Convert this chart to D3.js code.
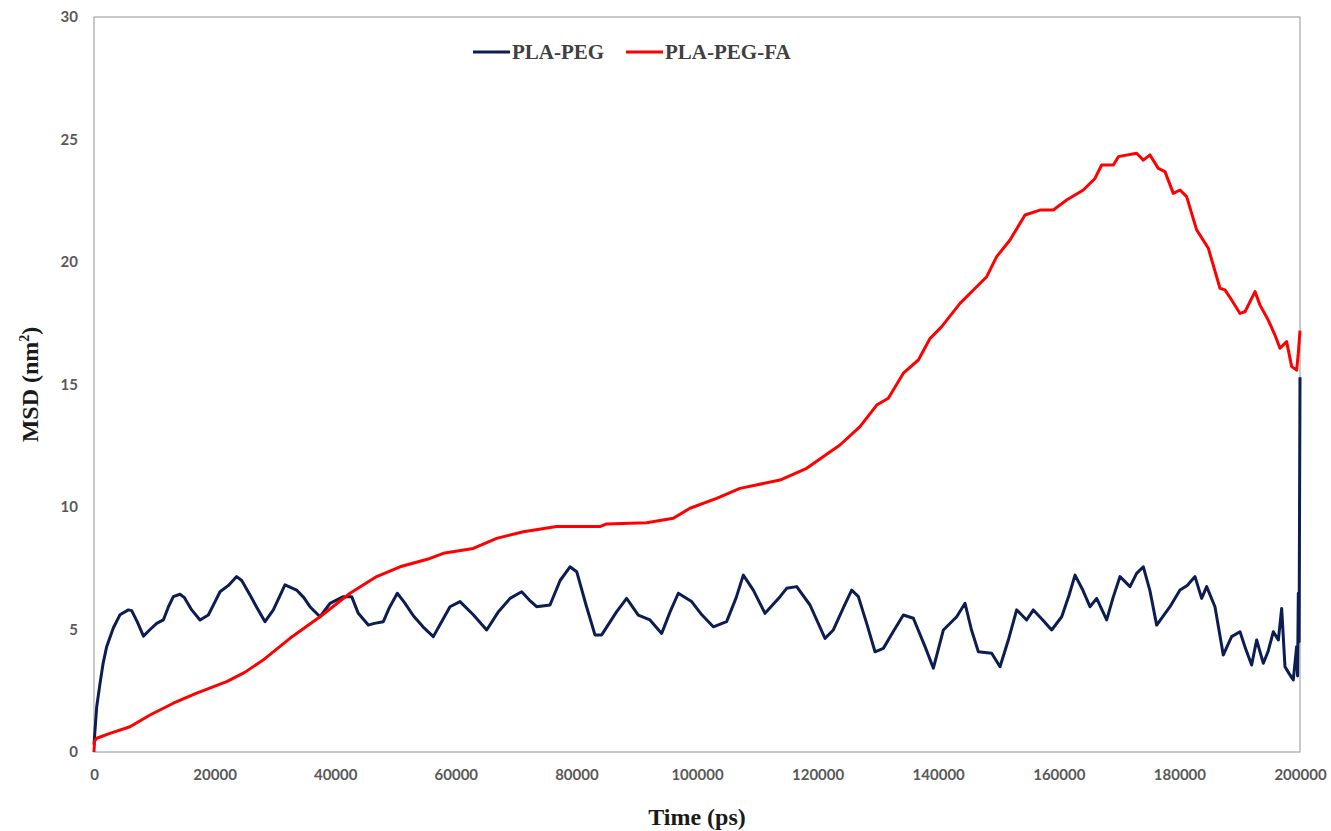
<!DOCTYPE html>
<html lang="en">
<head>
<meta charset="utf-8">
<title>MSD of PLA-PEG and PLA-PEG-FA</title>
<script src="https://d3js.org/d3.v7.min.js"></script>
<style>
  body { margin: 0; background: #fff; }
  .tick text { font-family: Lato, "Open Sans", sans-serif; font-weight: bold; font-size: 15px; fill: #595959; }
  .title { font-family: "Liberation Serif", "Times New Roman", serif; font-weight: bold; fill: #1a1a1a; }
  .legend text { font-family: "Liberation Serif", "Times New Roman", serif; font-weight: bold; font-size: 21px; fill: #404040; }
</style>
</head>
<body>
<script>
// values (time in ps, MSD in nm^2)
var seriesNames = ["PLA-PEG", "PLA-PEG-FA"];
var seriesColors = ["#0b1d51", "#ff0000"];

var xTicks = [0, 20000, 40000, 60000, 80000, 100000, 120000, 140000, 160000, 180000, 200000];
var yTicks = [0, 5, 10, 15, 20, 25, 30];

var timePEG = [0, 200, 450, 1000, 1500, 2100, 3200, 4300, 5700, 6250, 7200, 8200, 9300, 10400, 11500, 12300,
  13150, 14260, 15000, 16200, 17580, 18960, 20000, 20900, 22300, 23660, 24500, 25870, 27000, 28360, 29740,
  31670, 33600, 34800, 35820, 37480, 39140, 41350, 42740, 43830, 45490, 46500, 47980, 49000, 50300, 51500,
  52960, 54600, 56270, 57600, 59040, 60700, 62900, 65120, 67000, 68990, 70920, 72200, 73410, 75620, 77300,
  78940, 80050, 81600, 83080, 84190, 86680, 88330, 90260, 92200, 94140, 95500, 96900, 99110, 100800, 102700,
  104910, 106500, 107680, 109340, 111280, 113770, 114870, 116530, 118740, 121230, 122610, 124300, 125650,
  126760, 128200, 129520, 130900, 132500, 134220, 135880, 137820, 139200, 140860, 143070, 144450, 145500,
  146660, 148870, 150250, 151630, 153010, 154670, 155780, 157300, 158820, 160480, 161700, 162690, 164000,
  165170, 166280, 167940, 169000, 170150, 171810, 172910, 174020, 175100, 176230, 178440, 180100, 181300,
  182590, 183690, 184520, 185900, 187280, 188660, 190050, 191000, 191980, 192810, 193920, 194700, 195580,
  196410, 196960, 197510, 198200, 198890, 199440, 199600, 199720, 199850, 200000];
var msdPEG = [0.3, 1.0, 1.85, 2.8, 3.6, 4.3, 5.06, 5.6, 5.8, 5.77, 5.3, 4.73, 5.0, 5.25, 5.39, 5.9,
  6.34, 6.44, 6.3, 5.8, 5.39, 5.59, 6.1, 6.54, 6.8, 7.16, 7.0, 6.41, 5.9, 5.32, 5.8,
  6.82, 6.61, 6.3, 5.93, 5.52, 6.07, 6.34, 6.34, 5.66, 5.18, 5.25, 5.32, 5.9, 6.48, 6.1,
  5.56, 5.1, 4.71, 5.3, 5.93, 6.14, 5.6, 4.98, 5.7, 6.27, 6.54, 6.2, 5.93, 6.0, 7.0,
  7.56, 7.36, 6.0, 4.78, 4.78, 5.73, 6.27, 5.59, 5.39, 4.84, 5.7, 6.48, 6.14, 5.6, 5.11,
  5.32, 6.3, 7.22, 6.61, 5.66, 6.34, 6.68, 6.75, 6.0, 4.64, 4.98, 5.9, 6.61,
  6.34, 5.2, 4.09, 4.23, 4.9, 5.59, 5.46, 4.3, 3.42, 4.98, 5.52, 6.07, 5.0,
  4.09, 4.03, 3.48, 4.57, 5.8, 5.39, 5.8, 5.4, 4.98, 5.52, 6.4, 7.22, 6.6,
  5.93, 6.27, 5.39, 6.3, 7.16, 6.75, 7.29, 7.56, 6.6, 5.18, 5.93, 6.61, 6.8,
  7.16, 6.27, 6.75, 5.93, 3.96, 4.71, 4.91, 4.2, 3.55, 4.57, 3.62, 4.1, 4.91,
  4.57, 5.86, 3.48, 3.2, 2.94, 4.3, 3.1, 6.48, 4.5, 15.3];

var timeFA = [0, 100, 450, 2650, 5970, 9290, 13150, 17030, 22000, 25000, 28080, 32500, 37480, 42460, 46880,
  50750, 55720, 57930, 62900, 66780, 71200, 76730, 83910, 85020, 91650, 96080, 98840, 103260, 107130, 113760,
  118190, 123710, 127030, 129800, 131730, 134220, 136710, 138640, 140580, 143620, 146380, 148040, 149700,
  151910, 154400, 156880, 159090, 161300, 164070, 166000, 167110, 169050, 169880, 172910, 174020, 175120,
  176500, 177610, 178990, 180100, 181200, 182860, 184800, 186730, 187560, 188660, 190050, 190880, 192540,
  193370, 194730, 195850, 196680, 197780, 198620, 199440, 199720, 200000];
var msdFA = [0.0, 0.45, 0.56, 0.76, 1.03, 1.51, 1.99, 2.4, 2.87, 3.25, 3.76, 4.64, 5.52, 6.48, 7.16,
  7.56, 7.9, 8.11, 8.31, 8.72, 8.99, 9.2, 9.2, 9.31, 9.36, 9.54, 9.95, 10.35, 10.76, 11.1,
  11.58, 12.53, 13.28, 14.16, 14.44, 15.46, 16.0, 16.88, 17.36, 18.31, 18.99, 19.4, 20.22,
  20.9, 21.92, 22.12, 22.12, 22.53, 22.94, 23.41, 23.96, 23.96, 24.3, 24.44, 24.16, 24.37,
  23.82, 23.69, 22.8, 22.94, 22.67, 21.31, 20.56, 18.93, 18.86, 18.45, 17.9, 17.97, 18.79,
  18.24, 17.63, 17.02, 16.48, 16.75, 15.73, 15.59, 16.27, 17.2];

var margin = {top: 17, right: 31, bottom: 79, left: 94},
    width = 1331 - margin.left - margin.right,
    height = 831 - margin.top - margin.bottom;

var svg = d3.select("body").append("svg")
    .attr("width", 1331)
    .attr("height", 831);
var g = svg.append("g").attr("transform", "translate(" + margin.left + "," + margin.top + ")");

var x = d3.scaleLinear().domain([0, 200000]).range([0, width]);
var y = d3.scaleLinear().domain([0, 30]).range([height, 0]);

// plot frame
g.append("rect")
    .attr("width", width).attr("height", height)
    .attr("fill", "none").attr("stroke", "#a6a6a6").attr("stroke-width", 1.2);

g.append("g")
    .attr("transform", "translate(0," + height + ")")
    .call(d3.axisBottom(x).tickValues(xTicks).tickFormat(d3.format("d")).tickSize(0).tickPadding(17))
    .call(function(a) { a.select(".domain").remove(); });

g.append("g")
    .call(d3.axisLeft(y).tickValues(yTicks).tickSize(0).tickPadding(16))
    .call(function(a) { a.select(".domain").remove(); });

var line = d3.line()
    .x(function(d) { return x(d[0]); })
    .y(function(d) { return y(d[1]); });

var series = [d3.zip(timePEG, msdPEG), d3.zip(timeFA, msdFA)];
series.forEach(function(s, i) {
  g.append("path")
      .datum(s)
      .attr("fill", "none")
      .attr("stroke", seriesColors[i])
      .attr("stroke-width", 3)
      .attr("stroke-linejoin", "round")
      .attr("d", line);
});

// axis titles
svg.append("text")
    .attr("class", "title")
    .attr("x", margin.left + width / 2)
    .attr("y", 825)
    .attr("text-anchor", "middle")
    .attr("font-size", 24)
    .text("Time (ps)");

var yt = svg.append("text")
    .attr("class", "title")
    .attr("transform", "translate(38," + (margin.top + height / 2) + ") rotate(-90)")
    .attr("text-anchor", "middle")
    .attr("font-size", 24);
yt.append("tspan").text("MSD (nm");
yt.append("tspan").attr("font-size", 14).attr("dy", -9).text("2");
yt.append("tspan").attr("dy", 9).text(")");

// legend
var legendX = [473, 626];
var legend = svg.append("g").attr("class", "legend")
    .selectAll("g")
    .data(seriesNames)
    .enter().append("g")
    .attr("transform", function(d, i) { return "translate(" + legendX[i] + ",52)"; });

legend.append("line")
    .attr("x1", 0).attr("x2", 37)
    .attr("stroke", function(d, i) { return seriesColors[i]; })
    .attr("stroke-width", 3);

legend.append("text")
    .attr("x", 39)
    .attr("y", 7)
    .text(function(d) { return d; });
</script>
</body>
</html>
